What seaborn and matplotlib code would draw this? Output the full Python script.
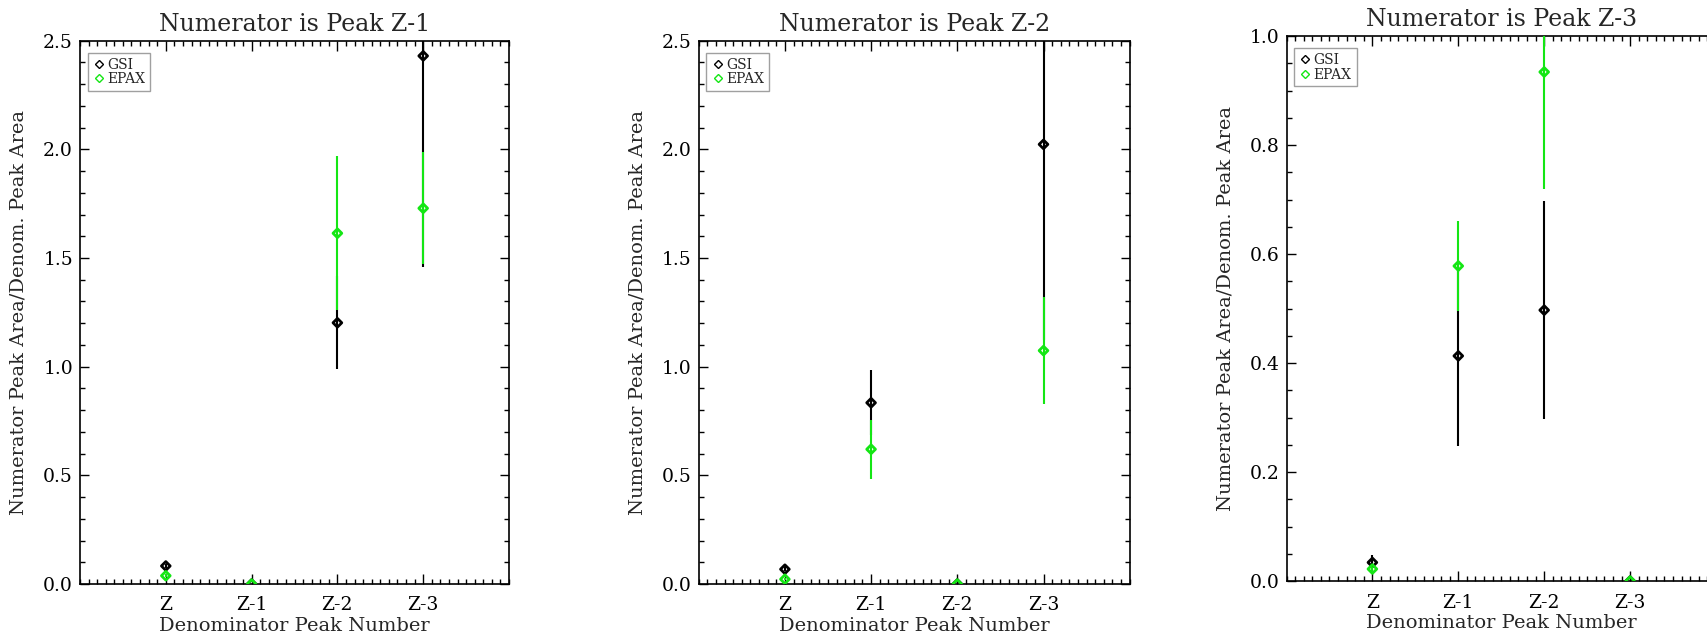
import numpy as np
import pandas as pd
import matplotlib
matplotlib.use("Agg")
import matplotlib.pyplot as plt
import seaborn as sns
from matplotlib.ticker import MultipleLocator, FixedLocator
from matplotlib.lines import Line2D

# ---------------- data ----------------
categories = ["Z", "Z-1", "Z-2", "Z-3"]
titles = ["Numerator is Peak Z-1", "Numerator is Peak Z-2", "Numerator is Peak Z-3"]
series_names = ["GSI", "EPAX"]

gsi_p1 = [0.083, 0.0, 1.202, 2.43]
gsi_p1_err = [0.008, 0.0, 0.214, 0.97]
epax_p1 = [0.038, 0.0, 1.614, 1.729]
epax_p1_err = [0.006, 0.0, 0.355, 0.257]

gsi_p2 = [0.068, 0.834, 0.0, 2.023]
gsi_p2_err = [0.008, 0.15, 0.0, 0.9]
epax_p2 = [0.022, 0.62, 0.0, 1.074]
epax_p2_err = [0.005, 0.135, 0.0, 0.245]

gsi_p3 = [0.034, 0.413, 0.497, 0.0]
gsi_p3_err = [0.013, 0.165, 0.2, 0.0]
epax_p3 = [0.022, 0.578, 0.934, 0.0]
epax_p3_err = [0.004, 0.082, 0.215, 0.0]

ylims = [2.5, 2.5, 1.0]
ymajor = [0.5, 0.5, 0.2]
yminor = [0.1, 0.1, 0.05]

panels = [
    (gsi_p1, gsi_p1_err, epax_p1, epax_p1_err),
    (gsi_p2, gsi_p2_err, epax_p2, epax_p2_err),
    (gsi_p3, gsi_p3_err, epax_p3, epax_p3_err),
]

# ---------------- style ----------------
sns.set_style("ticks")
plt.rcParams["font.family"] = ["DejaVu Serif"]

W, H = 1707, 636
fig = plt.figure(figsize=(W / 100, H / 100), dpi=100)

# axes boxes in pixels: left, right, top, bottom
boxes = [(80, 509, 40.7, 584), (698.7, 1129.7, 40.7, 584), (1286.5, 1716, 36, 581)]

colors = {"GSI": "black", "EPAX": "#14e614"}

for i, (box, data) in enumerate(zip(boxes, panels)):
    l, r, t, b = box
    ax = fig.add_axes([l / W, (H - b) / H, (r - l) / W, (b - t) / H])
    g, ge, e, ee = data
    pos = np.arange(len(categories))
    df = pd.DataFrame({
        "pos": np.concatenate([pos, pos]),
        "value": np.concatenate([g, e]),
        "err": np.concatenate([ge, ee]),
        "series": [series_names[0]] * len(pos) + [series_names[1]] * len(pos),
    })
    z = 3
    for name in series_names:
        sub = df[df["series"] == name]
        c = colors[name]
        ax.vlines(sub["pos"], sub["value"] - sub["err"], sub["value"] + sub["err"],
                  color=c, lw=1.5, zorder=z)
        sns.scatterplot(data=sub, x="pos", y="value", ax=ax, marker="D", s=20,
                        color=c, linewidth=2.0, legend=False, zorder=z + 1)
        coll = ax.collections[-1]
        coll.set_facecolor("none")
        coll.set_edgecolor(c)
        z += 2

    ax.set_xlim(-1, 4)
    ax.set_ylim(0, ylims[i])
    ax.xaxis.set_major_locator(FixedLocator(pos))
    ax.set_xticks(pos)
    ax.set_xticklabels(categories)
    ax.xaxis.set_minor_locator(MultipleLocator(0.1))
    ax.yaxis.set_major_locator(MultipleLocator(ymajor[i]))
    ax.yaxis.set_minor_locator(MultipleLocator(yminor[i]))
    ax.yaxis.set_major_formatter(matplotlib.ticker.FormatStrFormatter("%.1f"))

    ax.tick_params(which="both", direction="in", top=True, right=True, colors="black")
    ax.tick_params(axis="x", which="major", length=7.5, width=1.0, labelsize=13.5, pad=9)
    ax.tick_params(axis="x", which="minor", length=3.6, width=1.0)
    ax.tick_params(axis="y", which="major", length=6.5, width=1.0, labelsize=13.5, pad=5)
    ax.tick_params(axis="y", which="minor", length=3.6, width=1.0)
    for sp in ax.spines.values():
        sp.set_visible(True)
        sp.set_linewidth(1.2)
        sp.set_color("black")

    ax.set_xlabel("Denominator Peak Number", fontsize=14, labelpad=2)
    ax.set_ylabel("Numerator Peak Area/Denom. Peak Area", fontsize=14, labelpad=11)
    ax.set_title(titles[i], fontsize=17, pad=7)

    handles = [Line2D([], [], marker="D", ls="none", mfc="none", mec=colors[n],
                      ms=4, mew=1.0) for n in series_names]
    leg = ax.legend(handles, series_names, loc="upper left",
                    bbox_to_anchor=(0.018, 0.978), fontsize=10, frameon=True,
                    fancybox=False, borderpad=0.35, handletextpad=0.15,
                    handlelength=0.9, labelspacing=0.05, borderaxespad=0.0)
    leg.get_frame().set_edgecolor("#888888")
    leg.get_frame().set_linewidth(1.0)

fig.savefig("out.png", dpi=100)
